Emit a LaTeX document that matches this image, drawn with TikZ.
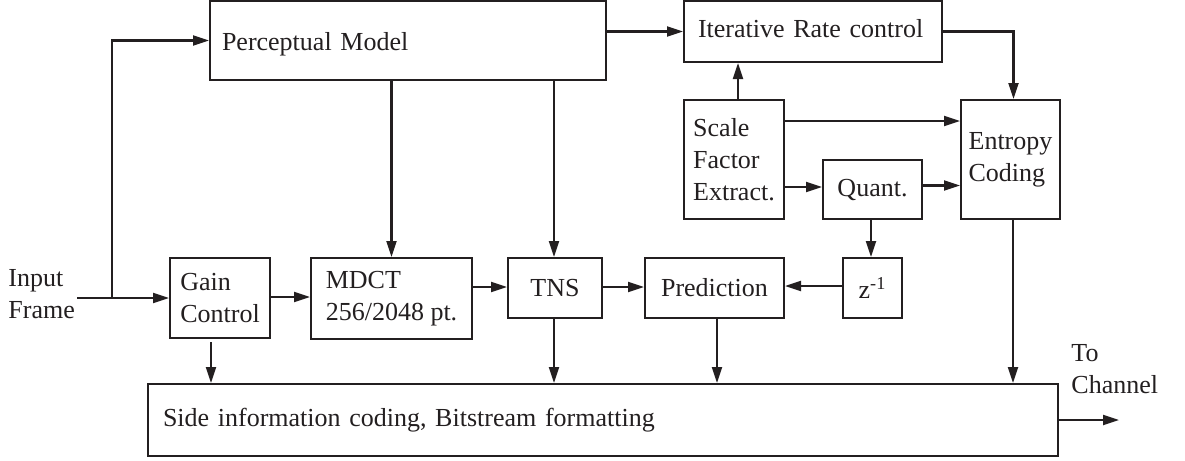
\documentclass[tikz,border=0pt]{standalone}
\usepackage{fontspec}
\setmainfont{Liberation Serif}
\usetikzlibrary{arrows.meta,calc}
\definecolor{ink}{HTML}{231F20}
\tikzset{
  blk/.style={draw=ink, line width=1pt, rectangle, inner sep=0pt, align=left,
    font=\fontsize{13pt}{16pt}\selectfont, text=ink},
  lbl/.style={inner sep=0pt, align=left, font=\fontsize{13pt}{16pt}\selectfont, text=ink},
  flow/.style={draw=ink, line width=1.1pt, -{Triangle[length=8pt,width=5pt]}},
  wire/.style={draw=ink, line width=1.1pt}
}
\begin{document}
\begin{tikzpicture}[x=0.5pt, y=-0.5pt]
\useasboundingbox (0,0) rectangle (1185,461);

% processing blocks
\node[blk, minimum width=198pt, minimum height=39.5pt, text width=186pt, inner xsep=6pt,
      text height=10pt, text depth=0.5pt] (pm) at (408,40.5) {Perceptual Model};
\node[blk, minimum width=129pt, minimum height=30.5pt, text width=115pt, inner xsep=7pt,
      text height=8pt, text depth=2.5pt] (irc) at (813,31.5) {Iterative Rate control};
\node[blk, minimum width=50pt, minimum height=59.5pt] (sfe) at (734,159.5) {Scale\\Factor\\Extract.};
\node[blk, minimum width=49.5pt, minimum height=59.5pt] (ec) at (1010.5,159.5) {Entropy\\Coding};
\node[blk, minimum width=49.5pt, minimum height=29.5pt, align=center] (quant) at (872.5,189.5) {Quant.};
\node[blk, minimum width=29.5pt, minimum height=30pt, align=center] (z) at (872.5,288) {z\textsuperscript{-1}};
\node[blk, minimum width=69.5pt, minimum height=30pt, align=center] (pred) at (714.5,288) {Prediction};
\node[blk, minimum width=47pt, minimum height=30pt, align=center] (tns) at (555,288) {TNS};
\node[blk, minimum width=80.5pt, minimum height=40.5pt] (mdct) at (391.5,298.5) {MDCT\\256/2048 pt.};
\node[blk, minimum width=50pt, minimum height=40pt] (gain) at (220,298) {Gain\\Control};
\node[blk, minimum width=455pt, minimum height=36pt, text width=440pt, inner xsep=7.5pt] (side) at (603,420) {Side information coding, Bitstream formatting};

% terminal labels
\node[lbl, anchor=west] (inlbl) at (8,294) {Input\\Frame};
\node[lbl, anchor=west] (outlbl) at (1071,369) {To\\Channel};
\coordinate (in) at (77,298);
\coordinate (br) at (112,298);
\coordinate (out) at (1119,420);

% input path
\draw[flow] (in) -- (gain.west);
\draw[flow] (br) |- (pm.west);

% top section
\draw[flow] (pm.east |- irc.west) -- (irc.west);
\draw[flow] ($(sfe.north)+(4,0)$) -- ($(sfe.north |- irc.south)+(4,0)$);
\draw[flow] (irc.east) -| ($(ec.north)+(3,0)$);
\draw[flow] ($(sfe.east)+(0,-38.5)$) -- ($(ec.west)+(0,-38.5)$);
\draw[flow] ($(sfe.east |- quant.west)+(0,-2.5)$) -- ($(quant.west)+(0,-2.5)$);
\draw[flow] ($(quant.east)+(0,-4)$) -- ($(quant.east -| ec.west)+(0,-4)$);
\draw[flow] ($(quant.south)+(-1.5,0)$) -- ($(z.north)+(-1.5,0)$);

% transform chain
\draw[flow] (pm.south -| mdct.north) -- (mdct.north);
\draw[flow] ($(pm.south -| tns.north)+(-1,0)$) -- ($(tns.north)+(-1,0)$);
\draw[flow] ($(gain.east)+(0,-1)$) -- ($(gain.east -| mdct.west)+(0,-1)$);
\draw[flow] ($(mdct.east |- tns.west)+(0,-1)$) -- ($(tns.west)+(0,-1)$);
\draw[flow] ($(tns.east)+(0,-1)$) -- ($(pred.west)+(0,-1)$);
\draw[flow] ($(z.west)+(0,-2)$) -- ($(pred.east)+(0,-2)$);

% side information
\draw[flow] ($(gain.south)+(-9,3)$) -- ($(gain.south |- side.north)+(-9,0)$);
\draw[flow] ($(tns.south)+(-1,0)$) -- ($(tns.south |- side.north)+(-1,0)$);
\draw[flow] ($(pred.south)+(2.5,0)$) -- ($(pred.south |- side.north)+(2.5,0)$);
\draw[flow] ($(ec.south)+(2.5,0)$) -- ($(ec.south |- side.north)+(2.5,0)$);
\draw[flow] (side.east |- out) -- (out);
\end{tikzpicture}
\end{document}
